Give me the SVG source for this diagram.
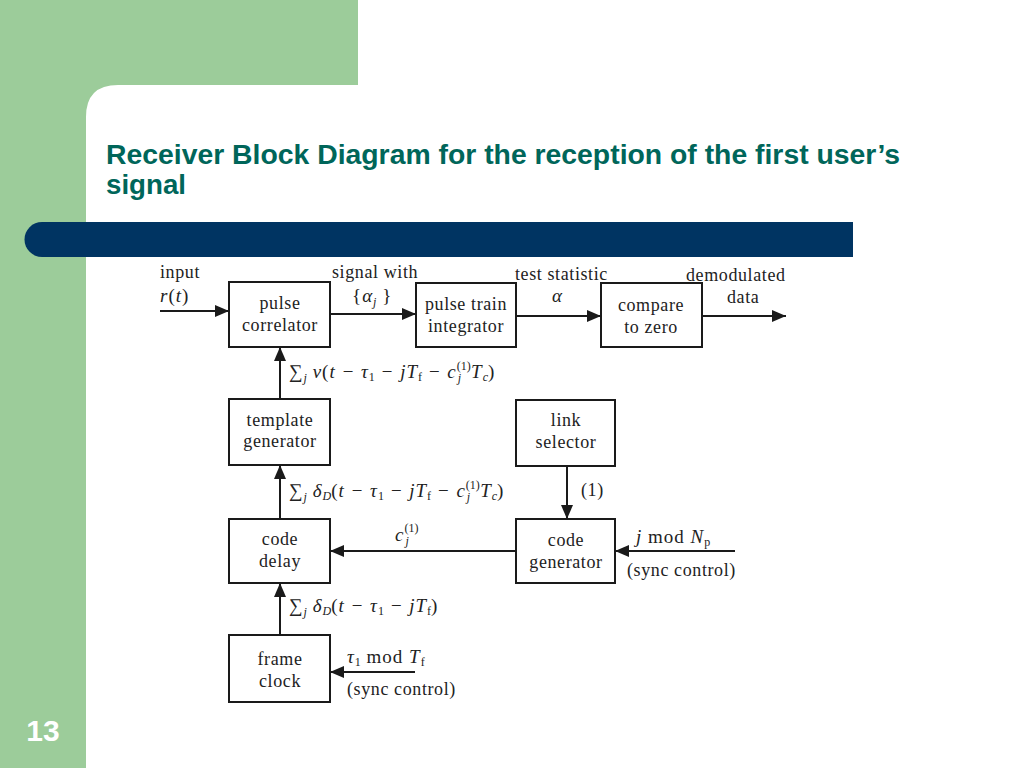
<svg xmlns="http://www.w3.org/2000/svg" width="1024" height="768" viewBox="0 0 1024 768">
<defs>
<style>
.box{fill:#fff;stroke:#1a1a1a;stroke-width:2}
.ln{stroke:#1a1a1a;stroke-width:2;fill:none}
.t{font-family:"Liberation Serif","DejaVu Serif",serif;font-size:18px;letter-spacing:0.6px;fill:#222}
.c{text-anchor:middle}
.m{font-family:"Liberation Serif","DejaVu Serif",serif;font-size:19px;letter-spacing:1px;fill:#222;font-style:italic}
.sub{font-size:12px;letter-spacing:0}
.up{font-style:normal}
</style>
<marker id="ah" viewBox="0 0 10 10" refX="10" refY="5" markerWidth="14" markerHeight="12" markerUnits="userSpaceOnUse" orient="auto" preserveAspectRatio="none">
<path d="M0,0 L10,5 L0,10 z" fill="#1a1a1a"/>
</marker>
</defs>
<rect width="1024" height="768" fill="#fff"/>
<path d="M0,0 H358 V85 H118 Q86,85 86,117 V768 H0 Z" fill="#9ccc9a"/>
<path d="M42,222 H853 V257 H42 A17.5,17.5 0 0 1 42,222 Z" fill="#003462"/>
<text x="106" y="164" font-family="Liberation Sans,Arial,sans-serif" font-weight="bold" font-size="28" textLength="794" lengthAdjust="spacingAndGlyphs" fill="#00665a">Receiver Block Diagram for the reception of the first user’s</text>
<text x="106" y="194" font-family="Liberation Sans,Arial,sans-serif" font-weight="bold" font-size="28" textLength="80" lengthAdjust="spacingAndGlyphs" fill="#00665a">signal</text>
<text x="43" y="741" font-family="Liberation Sans,Arial,sans-serif" font-weight="bold" font-size="30" fill="#fff" text-anchor="middle">13</text>

<g id="connectors">
<line class="ln" x1="160" y1="311" x2="229" y2="311" marker-end="url(#ah)"/>
<line class="ln" x1="330" y1="314" x2="416" y2="314" marker-end="url(#ah)"/>
<line class="ln" x1="516" y1="316" x2="601" y2="316" marker-end="url(#ah)"/>
<line class="ln" x1="702" y1="316" x2="786" y2="316" marker-end="url(#ah)"/>
<line class="ln" x1="280" y1="399" x2="280" y2="347" marker-end="url(#ah)"/>
<line class="ln" x1="280" y1="519" x2="280" y2="465" marker-end="url(#ah)"/>
<line class="ln" x1="280" y1="635" x2="280" y2="583" marker-end="url(#ah)"/>
<line class="ln" x1="567" y1="466" x2="567" y2="519" marker-end="url(#ah)"/>
<line class="ln" x1="516" y1="551" x2="330" y2="551" marker-end="url(#ah)"/>
<line class="ln" x1="735" y1="551" x2="615" y2="551" marker-end="url(#ah)"/>
<line class="ln" x1="415" y1="672" x2="330" y2="672" marker-end="url(#ah)"/>
</g>

<g id="pulse-correlator"><rect class="box" x="229" y="282" width="101" height="65"/>
<text class="t c" x="280" y="309">pulse</text><text class="t c" x="280" y="331">correlator</text></g>
<g id="pulse-train-integrator"><rect class="box" x="416" y="283" width="100" height="64"/>
<text class="t c" x="466" y="310">pulse train</text><text class="t c" x="466" y="332">integrator</text></g>
<g id="compare-to-zero"><rect class="box" x="601" y="283" width="101" height="64"/>
<text class="t c" x="651" y="311">compare</text><text class="t c" x="651" y="333">to zero</text></g>
<g id="template-generator"><rect class="box" x="229" y="399" width="101" height="66"/>
<text class="t c" x="280" y="426">template</text><text class="t c" x="280" y="447">generator</text></g>
<g id="link-selector"><rect class="box" x="516" y="400" width="99" height="66"/>
<text class="t c" x="566" y="426">link</text><text class="t c" x="566" y="448">selector</text></g>
<g id="code-delay"><rect class="box" x="229" y="519" width="101" height="64"/>
<text class="t c" x="280" y="545">code</text><text class="t c" x="280" y="567">delay</text></g>
<g id="code-generator"><rect class="box" x="516" y="519" width="99" height="64"/>
<text class="t c" x="566" y="546">code</text><text class="t c" x="566" y="568">generator</text></g>
<g id="frame-clock"><rect class="box" x="229" y="635" width="101" height="67"/>
<text class="t c" x="280" y="665">frame</text><text class="t c" x="280" y="687">clock</text></g>

<g id="labels">
<text class="t" x="160" y="278">input</text>
<text class="m" x="160" y="302">r<tspan class="up">(</tspan>t<tspan class="up">)</tspan></text>
<text class="t" x="332" y="278">signal with</text>
<text class="m" x="352" y="302"><tspan class="up">{</tspan>α<tspan class="sub" dy="4">j</tspan><tspan dy="-4" class="up"> }</tspan></text>
<text class="t" x="515" y="280">test statistic</text>
<text class="m" x="552" y="302">α</text>
<text class="t" x="686" y="281">demodulated</text>
<text class="t" x="727" y="303">data</text>

<text class="m" x="289" y="378"><tspan class="up">∑</tspan><tspan class="sub" dy="4">j</tspan><tspan dy="-4"> v<tspan class="up">(</tspan>t − τ</tspan><tspan class="sub up" dy="3">1</tspan><tspan dy="-3"> − jT</tspan><tspan class="sub up" dy="3">f</tspan><tspan dy="-3"> − c</tspan><tspan class="sub up" dy="-8">(1)</tspan><tspan class="sub" dx="-13" dy="12">j</tspan><tspan dx="10" dy="-4">T</tspan><tspan class="sub" dy="3">c</tspan><tspan dy="-3" class="up">)</tspan></text>

<text class="m" x="289" y="497"><tspan class="up">∑</tspan><tspan class="sub" dy="4">j</tspan><tspan dy="-4"> δ</tspan><tspan class="sub" dy="3">D</tspan><tspan dy="-3"><tspan class="up">(</tspan>t − τ</tspan><tspan class="sub up" dy="3">1</tspan><tspan dy="-3"> − jT</tspan><tspan class="sub up" dy="3">f</tspan><tspan dy="-3"> − c</tspan><tspan class="sub up" dy="-8">(1)</tspan><tspan class="sub" dx="-13" dy="12">j</tspan><tspan dx="10" dy="-4">T</tspan><tspan class="sub" dy="3">c</tspan><tspan dy="-3" class="up">)</tspan></text>

<text class="t" x="581" y="496">(1)</text>

<text class="m" x="395" y="541">c<tspan class="sub up" dy="-9">(1)</tspan><tspan class="sub" dx="-13" dy="13">j</tspan></text>

<text class="m" x="636" y="543">j <tspan class="up">mod</tspan> N<tspan class="sub up" dy="3">p</tspan></text>
<text class="t" x="627" y="576">(sync control)</text>

<text class="m" x="289" y="612"><tspan class="up">∑</tspan><tspan class="sub" dy="4">j</tspan><tspan dy="-4"> δ</tspan><tspan class="sub" dy="3">D</tspan><tspan dy="-3"><tspan class="up">(</tspan>t − τ</tspan><tspan class="sub up" dy="3">1</tspan><tspan dy="-3"> − jT</tspan><tspan class="sub up" dy="3">f</tspan><tspan dy="-3" class="up">)</tspan></text>

<text class="m" x="347" y="663">τ<tspan class="sub up" dy="3">1</tspan><tspan dy="-3" class="up"> mod </tspan>T<tspan class="sub up" dy="3">f</tspan></text>
<text class="t" x="347" y="695">(sync control)</text>
</g>
</svg>
